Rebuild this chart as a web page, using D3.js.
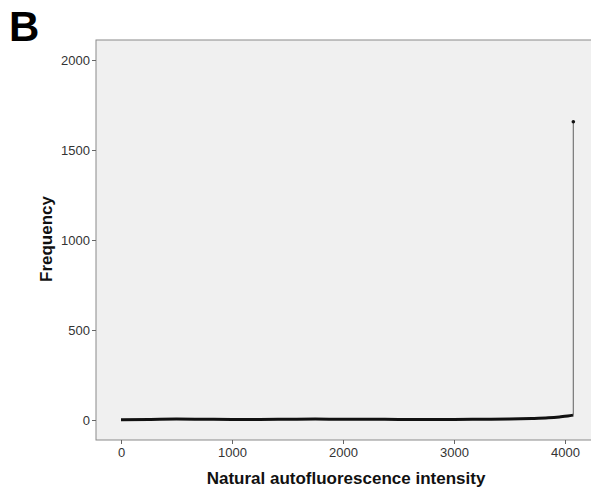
<!DOCTYPE html>
<html>
<head>
<meta charset="utf-8">
<script src="https://cdn.jsdelivr.net/npm/d3@7"></script>
<style>
  body { margin: 0; background: #fff; }
  svg text { font-family: "Liberation Sans", Arial, sans-serif; }
</style>
</head>
<body>
<svg></svg>
<script>
// histogram of natural autofluorescence
const intensity = [0, 250, 500, 750, 1000, 1250, 1500, 1750, 2000, 2250, 2500, 2750,
                   3000, 3250, 3500, 3700, 3850, 3950, 4025, 4075];
const frequency = [2, 3, 5, 4, 3, 3, 4, 5, 4, 4, 3, 3,
                   3, 4, 5, 8, 12, 17, 22, 27];
// the saturated last bin
const peakIntensity = [4075];
const peakFrequency = [1657];

const xTicks = [0, 1000, 2000, 3000, 4000];
const yTicks = [0, 500, 1000, 1500, 2000];

const size = {w: 591, h: 497};
const plot = {l: 96, t: 40, r: 600, b: 440};
const svg = d3.select('svg').attr('width', size.w).attr('height', size.h);

const x = d3.scaleLinear().domain([0, 4000]).range([121, 565]);
const y = d3.scaleLinear().domain([0, 2000]).range([420, 60]);

// panel letter
svg.append('text')
    .attr('x', 9).attr('y', 41)
    .style('font-size', '42px').style('font-weight', 'bold')
    .text('B');

// plot background
svg.append('rect')
    .attr('x', plot.l).attr('y', plot.t)
    .attr('width', plot.r - plot.l).attr('height', plot.b - plot.t)
    .attr('fill', '#f0f0f0')
    .attr('stroke', '#8a8a8a').attr('stroke-width', 1);

// axes
const xAxis = d3.axisBottom(x).tickValues(xTicks).tickFormat(d3.format('d'))
    .tickSize(4).tickPadding(4);
const yAxis = d3.axisLeft(y).tickValues(yTicks).tickFormat(d3.format('d'))
    .tickSize(4).tickPadding(2);

const xG = svg.append('g').attr('transform', `translate(0,${plot.b})`).call(xAxis);
const yG = svg.append('g').attr('transform', `translate(${plot.l},0)`).call(yAxis);
[xG, yG].forEach(g => {
    g.select('.domain').remove();
    g.selectAll('line').attr('stroke', '#666');
    g.selectAll('text').style('font-size', '13px').attr('fill', '#333');
});

// the curve
const line = d3.line()
    .x((d, i) => x(intensity[i]))
    .y(d => y(d))
    .curve(d3.curveMonotoneX);

svg.append('path')
    .datum(frequency)
    .attr('d', line)
    .attr('fill', 'none')
    .attr('stroke', '#111')
    .attr('stroke-width', 3);

// spike up to the last bin
const last = frequency.length - 1;
svg.append('line')
    .attr('x1', x(intensity[last])).attr('y1', y(frequency[last]))
    .attr('x2', x(peakIntensity[0])).attr('y2', y(peakFrequency[0]))
    .attr('stroke', '#777').attr('stroke-width', 1.2);

svg.selectAll('circle.peak')
    .data(peakFrequency)
    .join('circle')
    .classed('peak', true)
    .attr('cx', (d, i) => x(peakIntensity[i]))
    .attr('cy', d => y(d))
    .attr('r', 1.8)
    .attr('fill', '#111');

// axis titles
svg.append('text')
    .attr('x', 346).attr('y', 484)
    .attr('text-anchor', 'middle')
    .style('font-size', '17px').style('font-weight', 'bold')
    .attr('fill', '#111')
    .text('Natural autofluorescence intensity');

svg.append('text')
    .attr('transform', 'translate(52,239) rotate(-90)')
    .attr('text-anchor', 'middle')
    .style('font-size', '17px').style('font-weight', 'bold')
    .attr('fill', '#111')
    .text('Frequency');
</script>
</body>
</html>
